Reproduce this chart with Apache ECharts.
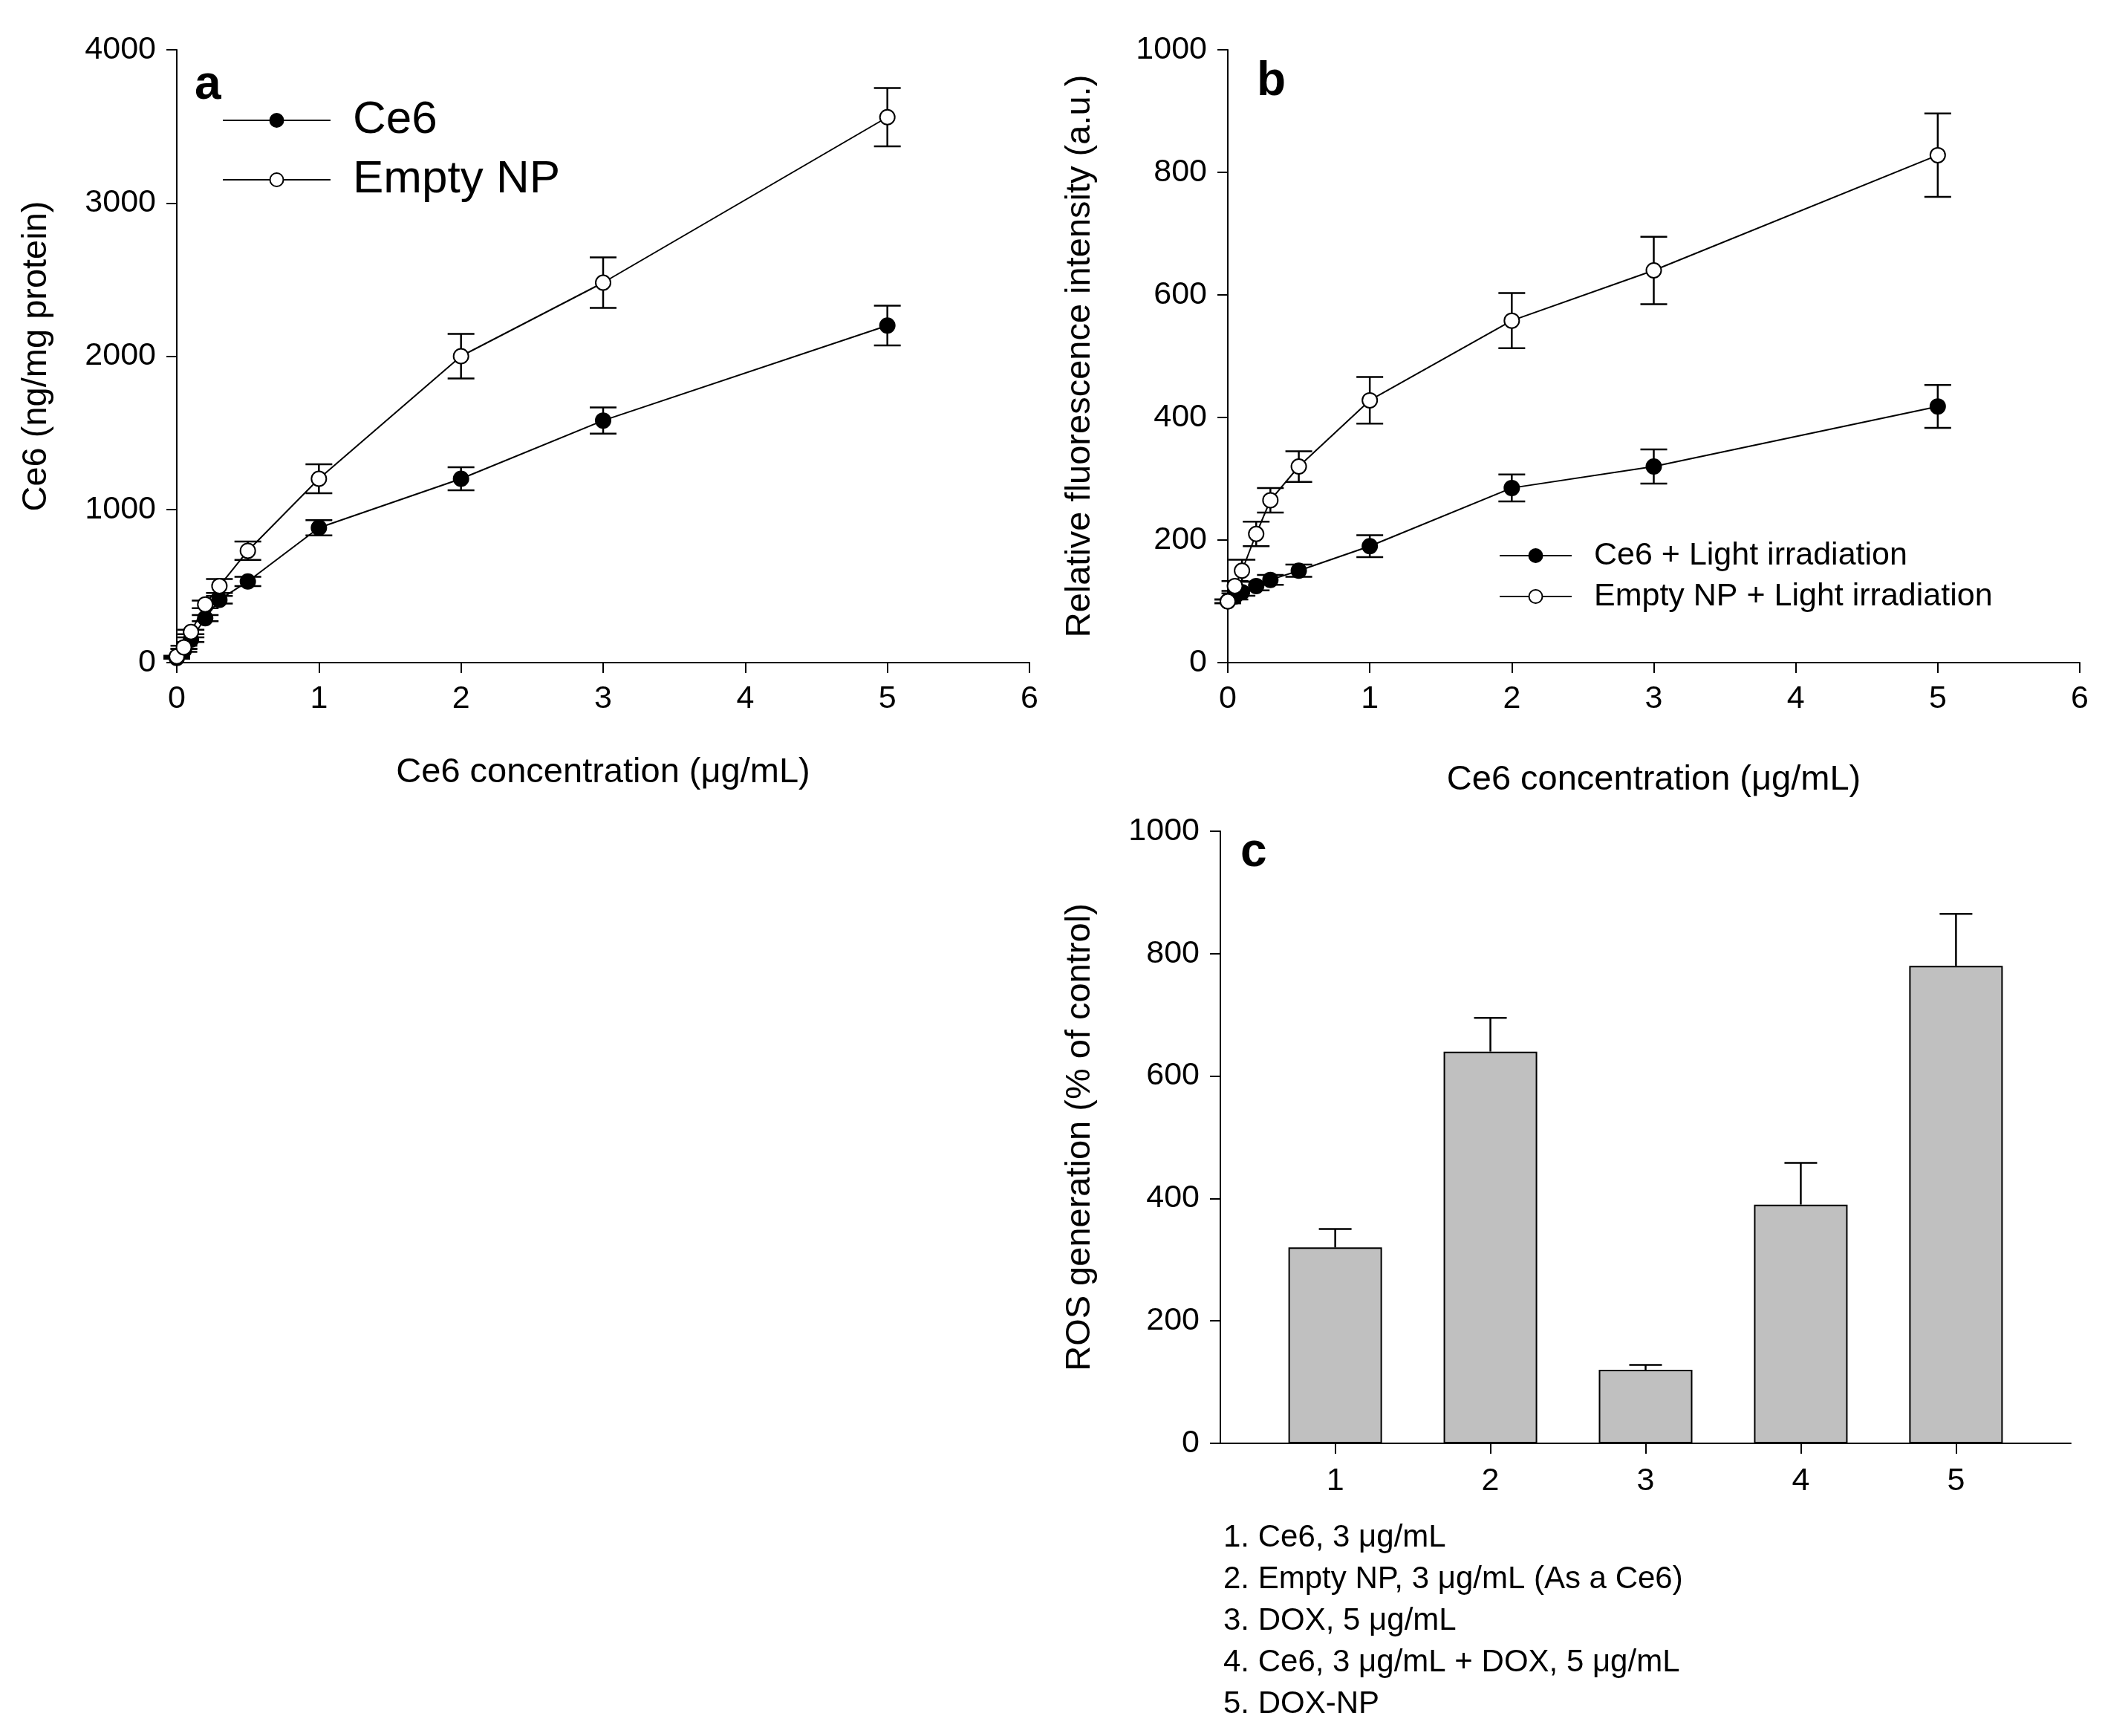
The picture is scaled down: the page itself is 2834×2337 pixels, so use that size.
<!DOCTYPE html>
<html><head><meta charset="utf-8">
<script src="https://cdn.jsdelivr.net/npm/echarts@6/dist/echarts.min.js"></script>
<style>html,body{margin:0;background:#fff}#main{width:2834px;height:2337px}</style>
</head><body><div id="main"></div>
<script>
// panel a
var concA = [0, 0.05, 0.1, 0.2, 0.3, 0.5, 1, 2, 3, 5];
var ce6A = [30, 80, 150, 290, 410, 530, 880, 1200, 1580, 2200];
var ce6AErr = [5, 10, 15, 20, 25, 30, 50, 75, 85, 130];
var npA = [40, 100, 200, 380, 500, 730, 1200, 2000, 2480, 3560];
var npAErr = [5, 10, 15, 25, 45, 60, 95, 145, 165, 190];
// panel b
var concB = [0, 0.05, 0.1, 0.2, 0.3, 0.5, 1, 2, 3, 5];
var ce6B = [100, 108, 115, 125, 135, 150, 190, 285, 320, 418];
var ce6BErr = [3, 5, 6, 7, 8, 10, 18, 22, 28, 35];
var npB = [100, 125, 150, 210, 265, 320, 428, 558, 640, 828];
var npBErr = [3, 8, 18, 20, 20, 25, 38, 45, 55, 68];
// panel c
var groups = [1, 2, 3, 4, 5];
var ros = [320, 640, 120, 390, 780];
var rosErr = [30, 55, 8, 68, 85];
var notes = ['1. Ce6, 3 \u03bcg/mL', '2. Empty NP, 3 \u03bcg/mL (As a Ce6)', '3. DOX, 5 \u03bcg/mL',
  '4. Ce6, 3 \u03bcg/mL + DOX, 5 \u03bcg/mL', '5. DOX-NP'];

var FONT = 'Liberation Sans';
var chart = echarts.init(document.getElementById('main'));

function errSeries(xi, yi, xs, ys, es, cap, upOnly) {
  return {
    type: 'custom', xAxisIndex: xi, yAxisIndex: yi, z: 1,
    data: xs.map(function (x, i) { return [x, upOnly ? ys[i] : ys[i] - es[i], ys[i] + es[i]]; }),
    renderItem: function (params, api) {
      var lo = api.coord([api.value(0), api.value(1)]);
      var hi = api.coord([api.value(0), api.value(2)]);
      var st = { stroke: '#000', lineWidth: 2.5 };
      var kids = [
        { type: 'line', shape: { x1: lo[0], y1: lo[1], x2: hi[0], y2: hi[1] }, style: st },
        { type: 'line', shape: { x1: hi[0] - cap, y1: hi[1], x2: hi[0] + cap, y2: hi[1] }, style: st }
      ];
      if (!upOnly) kids.push({ type: 'line', shape: { x1: lo[0] - cap, y1: lo[1], x2: lo[0] + cap, y2: lo[1] }, style: st });
      return { type: 'group', children: kids };
    }
  };
}
function lineSeries(xi, yi, xs, ys, filled) {
  return {
    type: 'line', xAxisIndex: xi, yAxisIndex: yi, z: 3,
    data: xs.map(function (x, i) { return [x, ys[i]]; }),
    symbol: 'circle', symbolSize: 20, showSymbol: true,
    lineStyle: { color: '#000', width: 2 },
    itemStyle: { color: filled ? '#000' : '#fff', borderColor: '#000', borderWidth: 2 }
  };
}
function plain(v) { return String(v); }
var lab = { color: '#000', fontSize: 43, fontFamily: FONT, formatter: plain };
var nameSt = { color: '#000', fontSize: 47, fontFamily: FONT };
var axLine = { lineStyle: { color: '#000', width: 2 } };
var tick = { inside: false, length: 14, lineStyle: { color: '#000', width: 2 } };
function xAx(gi, name, gap) {
  return { type: 'value', gridIndex: gi, min: 0, max: 6, interval: 1, name: name, nameLocation: 'middle',
    nameGap: gap, nameTextStyle: nameSt, axisLine: axLine, axisTick: tick,
    axisLabel: Object.assign({ margin: 28 }, lab), splitLine: { show: false } };
}
function yAx(gi, max, itv, name, gap) {
  return { type: 'value', gridIndex: gi, min: 0, max: max, interval: itv, name: name, nameLocation: 'middle',
    nameGap: gap, nameTextStyle: nameSt, axisLine: { show: true, lineStyle: { color: '#000', width: 2 } },
    axisTick: { show: true, inside: false, length: 14, lineStyle: { color: '#000', width: 2 } },
    axisLabel: Object.assign({ margin: 28 }, lab), splitLine: { show: false } };
}
function legendItem(x1, x2, y, filled, text, size) {
  return [
    { type: 'line', shape: { x1: x1, y1: y, x2: x2, y2: y }, style: { stroke: '#000', lineWidth: 2 } },
    { type: 'circle', shape: { cx: (x1 + x2) / 2, cy: y, r: 9 }, style: { fill: filled ? '#000' : '#fff', stroke: '#000', lineWidth: 2 } },
    { type: 'text', x: x2 + 30, y: y, style: { text: text, font: size + 'px ' + FONT, fill: '#000', verticalAlign: 'middle' } }
  ];
}
var graphics = []
  .concat(legendItem(300, 445, 162, true, 'Ce6', 62))
  .concat(legendItem(300, 445, 242, false, 'Empty NP', 62))
  .concat(legendItem(2019, 2116, 748, true, 'Ce6 + Light irradiation', 43))
  .concat(legendItem(2019, 2116, 803, false, 'Empty NP + Light irradiation', 43));
[['a', 262, 115], ['b', 1692, 110], ['c', 1670, 1148]].forEach(function (p) {
  graphics.push({ type: 'text', x: p[1], y: p[2], style: { text: p[0], font: 'bold 64px ' + FONT, fill: '#000', verticalAlign: 'middle' } });
});
notes.forEach(function (t, i) {
  graphics.push({ type: 'text', x: 1647, y: 2070 + i * 56, style: { text: t, font: '42px ' + FONT, fill: '#000', verticalAlign: 'middle' } });
});

chart.setOption({
  animation: false,
  grid: [
    { left: 238, top: 67, width: 1148, height: 825 },
    { left: 1653, top: 67, width: 1147, height: 825 },
    { left: 1643, top: 1119, width: 1145, height: 824 }
  ],
  xAxis: [
    xAx(0, 'Ce6 concentration (\u03bcg/mL)', 125),
    xAx(1, 'Ce6 concentration (\u03bcg/mL)', 135),
    { type: 'value', gridIndex: 2, min: 0.26, max: 5.74, axisLine: axLine,
      axisTick: { inside: false, length: 14, lineStyle: { color: '#000', width: 2 }, customValues: groups },
      axisLabel: Object.assign({ customValues: groups, margin: 30 }, lab), splitLine: { show: false } }
  ],
  yAxis: [
    yAx(0, 4000, 1000, 'Ce6 (ng/mg protein)', 165),
    yAx(1, 1000, 200, 'Relative fluorescence intensity (a.u.)', 175),
    yAx(2, 1000, 200, 'ROS generation (% of control)', 165)
  ],
  series: [
    errSeries(0, 0, concA, ce6A, ce6AErr, 18),
    errSeries(0, 0, concA, npA, npAErr, 18),
    lineSeries(0, 0, concA, ce6A, true),
    lineSeries(0, 0, concA, npA, false),
    errSeries(1, 1, concB, ce6B, ce6BErr, 18),
    errSeries(1, 1, concB, npB, npBErr, 18),
    lineSeries(1, 1, concB, ce6B, true),
    lineSeries(1, 1, concB, npB, false),
    errSeries(2, 2, groups, ros, rosErr, 22, true),
    { type: 'bar', xAxisIndex: 2, yAxisIndex: 2, z: 2, barWidth: 126,
      data: groups.map(function (g, i) { return [g, ros[i]]; }),
      itemStyle: { color: '#c0c0c0', borderColor: '#000', borderWidth: 2 } }
  ],
  graphic: graphics
});
</script></body></html>
